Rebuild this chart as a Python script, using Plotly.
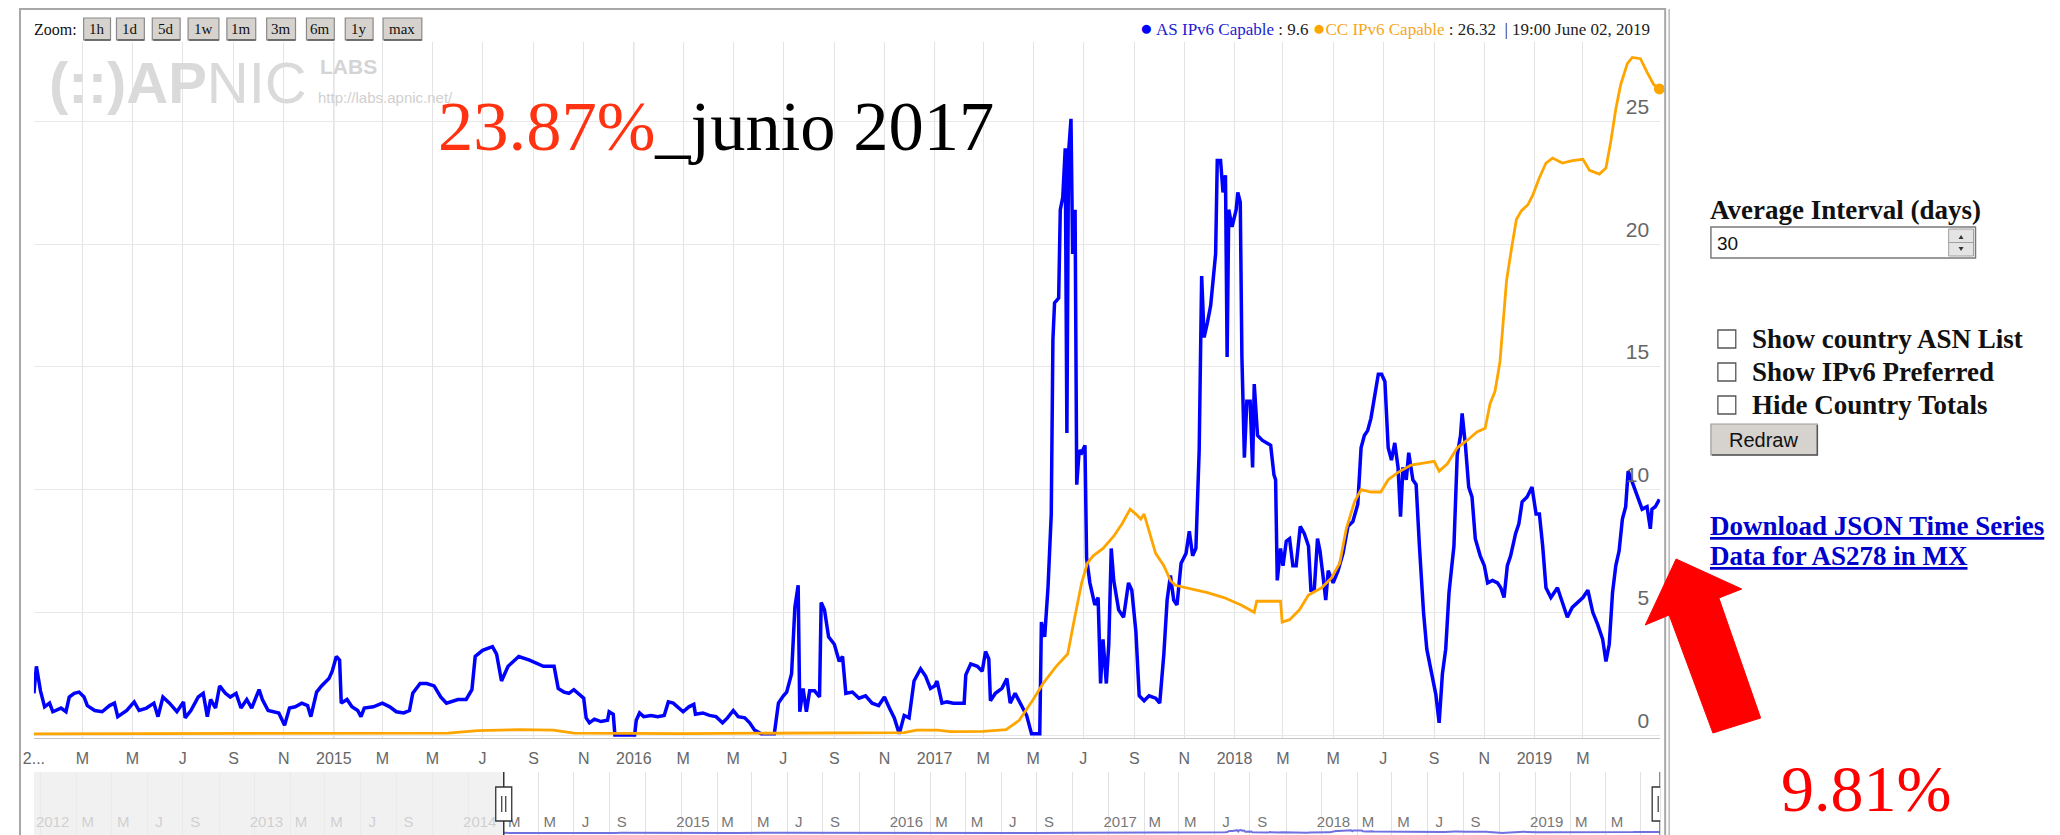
import plotly.graph_objects as go
import pandas as pd

# ---------------- data ----------------
as_dates = [
    "2014-01-01", "2014-01-04", "2014-01-09", "2014-01-14", "2014-01-20", "2014-01-24", "2014-02-03", "2014-02-09",
    "2014-02-13", "2014-02-19", "2014-02-25", "2014-03-03", "2014-03-07", "2014-03-16", "2014-03-25", "2014-04-03",
    "2014-04-09", "2014-04-13", "2014-04-24", "2014-05-03", "2014-05-09", "2014-05-18", "2014-05-27", "2014-06-01",
    "2014-06-07", "2014-06-15", "2014-06-24", "2014-07-02", "2014-07-04", "2014-07-11", "2014-07-20", "2014-07-26",
    "2014-07-31", "2014-08-04", "2014-08-10", "2014-08-15", "2014-08-22", "2014-08-28", "2014-09-04", "2014-09-10",
    "2014-09-17", "2014-09-23", "2014-10-02", "2014-10-06", "2014-10-13", "2014-10-19", "2014-10-26", "2014-11-02",
    "2014-11-08", "2014-11-15", "2014-11-23", "2014-11-30", "2014-12-04", "2014-12-11", "2014-12-17", "2014-12-26",
    "2014-12-30", "2015-01-04", "2015-01-08", "2015-01-10", "2015-01-17", "2015-01-23", "2015-01-30", "2015-02-03",
    "2015-02-07", "2015-02-18", "2015-03-01", "2015-03-10", "2015-03-18", "2015-03-27", "2015-04-03", "2015-04-07",
    "2015-04-16", "2015-04-24", "2015-05-03", "2015-05-11", "2015-05-18", "2015-06-01", "2015-06-11", "2015-06-18",
    "2015-06-22", "2015-07-01", "2015-07-13", "2015-07-18", "2015-07-24", "2015-08-01", "2015-08-14", "2015-08-27",
    "2015-09-13", "2015-09-26", "2015-10-01", "2015-10-08", "2015-10-14", "2015-10-20", "2015-10-28", "2015-11-01",
    "2015-11-04", "2015-11-08", "2015-11-14", "2015-11-22", "2015-11-30", "2015-12-02", "2015-12-07", "2015-12-09",
    "2016-01-02", "2016-01-04", "2016-01-08", "2016-01-13", "2016-01-22", "2016-01-30", "2016-02-07", "2016-02-12",
    "2016-02-18", "2016-02-24", "2016-03-01", "2016-03-08", "2016-03-14", "2016-03-16", "2016-03-25", "2016-04-02",
    "2016-04-10", "2016-04-18", "2016-04-24", "2016-05-01", "2016-05-07", "2016-05-15", "2016-05-21", "2016-05-27",
    "2016-06-04", "2016-06-20", "2016-06-25", "2016-07-01", "2016-07-05", "2016-07-11", "2016-07-15", "2016-07-19",
    "2016-07-21", "2016-07-25", "2016-07-29", "2016-08-02", "2016-08-08", "2016-08-14", "2016-08-16", "2016-08-20",
    "2016-08-25", "2016-09-01", "2016-09-07", "2016-09-11", "2016-09-15", "2016-09-23", "2016-10-01", "2016-10-09",
    "2016-10-17", "2016-10-25", "2016-11-01", "2016-11-07", "2016-11-13", "2016-11-19", "2016-11-25", "2016-12-01",
    "2016-12-07", "2016-12-15", "2016-12-21", "2016-12-27", "2017-01-01", "2017-01-04", "2017-01-10", "2017-01-16",
    "2017-01-24", "2017-02-06", "2017-02-08", "2017-02-14", "2017-02-22", "2017-02-28", "2017-03-04", "2017-03-08",
    "2017-03-10", "2017-03-16", "2017-03-24", "2017-03-30", "2017-04-03", "2017-04-09", "2017-04-15", "2017-04-23",
    "2017-04-29", "2017-05-09", "2017-05-11", "2017-05-15", "2017-05-19", "2017-05-23", "2017-05-25", "2017-05-27",
    "2017-06-01", "2017-06-03", "2017-06-06", "2017-06-09", "2017-06-11", "2017-06-13", "2017-06-16", "2017-06-18",
    "2017-06-21", "2017-06-23", "2017-06-26", "2017-06-29", "2017-07-03", "2017-07-05", "2017-07-09", "2017-07-15",
    "2017-07-19", "2017-07-22", "2017-07-25", "2017-07-29", "2017-08-01", "2017-08-04", "2017-08-07", "2017-08-13",
    "2017-08-19", "2017-08-25", "2017-08-29", "2017-09-03", "2017-09-07", "2017-09-13", "2017-09-19", "2017-09-27",
    "2017-10-02", "2017-10-07", "2017-10-11", "2017-10-15", "2017-10-19", "2017-10-23", "2017-10-28", "2017-11-03",
    "2017-11-07", "2017-11-11", "2017-11-15", "2017-11-19", "2017-11-22", "2017-11-25", "2017-11-29", "2017-12-03",
    "2017-12-09", "2017-12-11", "2017-12-15", "2017-12-18", "2017-12-21", "2017-12-23", "2017-12-25", "2017-12-29",
    "2018-01-03", "2018-01-05", "2018-01-08", "2018-01-10", "2018-01-13", "2018-01-16", "2018-01-20", "2018-01-23",
    "2018-01-25", "2018-01-29", "2018-02-04", "2018-02-14", "2018-02-18", "2018-02-20", "2018-02-22", "2018-02-26",
    "2018-03-01", "2018-03-05", "2018-03-09", "2018-03-13", "2018-03-17", "2018-03-22", "2018-03-27", "2018-04-01",
    "2018-04-04", "2018-04-08", "2018-04-12", "2018-04-15", "2018-04-19", "2018-04-22", "2018-04-25", "2018-05-01",
    "2018-05-07", "2018-05-13", "2018-05-19", "2018-05-25", "2018-05-31", "2018-06-04", "2018-06-08", "2018-06-12",
    "2018-06-16", "2018-06-20", "2018-06-25", "2018-06-29", "2018-07-03", "2018-07-07", "2018-07-11", "2018-07-15",
    "2018-07-19", "2018-07-22", "2018-07-25", "2018-07-29", "2018-08-01", "2018-08-06", "2018-08-10", "2018-08-14",
    "2018-08-19", "2018-08-23", "2018-08-28", "2018-09-03", "2018-09-07", "2018-09-11", "2018-09-15", "2018-09-19",
    "2018-09-25", "2018-09-29", "2018-10-03", "2018-10-05", "2018-10-09", "2018-10-13", "2018-10-17", "2018-10-21",
    "2018-10-27", "2018-11-01", "2018-11-05", "2018-11-11", "2018-11-17", "2018-11-21", "2018-11-25", "2018-11-29",
    "2018-12-03", "2018-12-09", "2018-12-13", "2018-12-17", "2018-12-23", "2018-12-29", "2019-01-03", "2019-01-07",
    "2019-01-11", "2019-01-15", "2019-01-21", "2019-01-29", "2019-02-04", "2019-02-10", "2019-02-16", "2019-02-22",
    "2019-03-01", "2019-03-07", "2019-03-13", "2019-03-19", "2019-03-25", "2019-03-29", "2019-04-02", "2019-04-06",
    "2019-04-10", "2019-04-14", "2019-04-18", "2019-04-22", "2019-04-25", "2019-04-30", "2019-05-06", "2019-05-12",
    "2019-05-18", "2019-05-22", "2019-05-24", "2019-05-28", "2019-06-02",
]
as_vals = [
    1.7, 2.8, 1.8, 1.15, 1.3, 0.95, 1.1, 0.95,
    1.55, 1.7, 1.75, 1.55, 1.2, 1.0, 0.95, 1.2,
    1.3, 0.75, 1.0, 1.35, 1.0, 1.1, 1.3, 0.75,
    1.55, 1.3, 0.95, 1.35, 0.7, 1.0, 1.55, 1.7,
    0.75, 1.45, 1.1, 2.0, 1.7, 1.55, 1.7, 1.1,
    1.45, 1.1, 1.85, 1.45, 1.0, 0.95, 0.9, 0.4,
    1.1, 1.15, 1.3, 1.2, 0.75, 1.75, 2.0, 2.3,
    2.6, 3.2, 3.05, 1.3, 1.45, 1.15, 1.0, 0.75,
    1.1, 1.15, 1.3, 1.15, 0.95, 0.9, 1.0, 1.7,
    2.1, 2.1, 2.0, 1.55, 1.3, 1.45, 1.45, 1.85,
    3.2, 3.45, 3.6, 3.3, 2.2, 2.8, 3.2, 3.05,
    2.8, 2.8, 1.9, 1.75, 1.7, 1.85, 1.6, 1.5,
    0.7, 0.5, 0.65, 0.55, 0.6, 0.95, 0.85, 0.0,
    0.0, 0.6, 0.9, 0.75, 0.8, 0.75, 0.8, 1.35,
    1.3, 1.1, 0.95, 1.15, 1.25, 0.85, 0.9, 0.8,
    0.75, 0.5, 0.7, 1.0, 0.75, 0.7, 0.5, 0.2,
    0.05, 0.05, 1.3, 1.6, 1.75, 2.5, 5.2, 6.1,
    0.95, 1.9, 0.95, 1.8, 1.8, 1.55, 5.4, 5.1,
    4.0, 3.7, 3.0, 3.2, 1.7, 1.75, 1.5, 1.6,
    1.3, 1.2, 1.55, 1.1, 0.7, 0.05, 0.8, 0.7,
    2.2, 2.7, 2.4, 1.9, 2.0, 2.2, 1.3, 1.35,
    1.3, 1.3, 2.45, 2.9, 2.8, 2.6, 3.4, 3.1,
    1.4, 1.7, 1.9, 2.3, 1.3, 1.7, 1.3, 0.8,
    0.05, 0.05, 4.6, 4.0, 6.0, 9.0, 16.1, 17.6,
    17.8, 21.4, 21.9, 23.9, 12.3, 23.7, 25.1, 19.6,
    21.4, 10.2, 11.6, 11.5, 11.8, 7.2, 6.2, 5.3,
    5.6, 2.1, 3.9, 2.1, 3.7, 7.6, 6.3, 5.1,
    4.8, 6.2, 5.9, 4.2, 1.6, 1.4, 1.6, 1.5,
    1.3, 3.3, 5.5, 6.5, 5.5, 5.3, 7.0, 7.4,
    8.3, 7.3, 7.6, 11.6, 18.7, 16.2, 16.8, 17.5,
    19.6, 23.4, 23.4, 22.1, 22.8, 15.4, 21.4, 20.7,
    21.4, 22.1, 21.7, 15.4, 11.3, 13.6, 13.6, 10.9,
    14.3, 12.2, 12.0, 11.8, 10.6, 10.4, 6.3, 7.6,
    6.9, 7.9, 8.0, 6.9, 6.9, 8.5, 8.2, 7.7,
    5.9, 5.9, 8.0, 7.5, 6.4, 5.5, 6.7, 6.2,
    6.7, 7.4, 8.5, 8.7, 9.4, 11.7, 12.2, 12.4,
    12.9, 13.7, 14.7, 14.7, 14.4, 11.7, 11.2, 11.9,
    10.9, 8.9, 10.9, 10.4, 11.5, 10.4, 10.2, 7.7,
    5.0, 3.5, 2.6, 1.65, 0.5, 2.5, 3.5, 5.8,
    7.7, 11.4, 12.2, 13.1, 11.8, 10.1, 9.7, 8.0,
    7.3, 6.9, 6.2, 6.3, 6.2, 6.0, 5.6, 6.9,
    7.3, 8.2, 8.6, 9.5, 9.7, 10.1, 9.0, 9.0,
    7.7, 6.0, 5.6, 6.0, 5.4, 4.8, 5.2, 5.4,
    5.6, 5.9, 5.0, 4.5, 3.9, 3.0, 3.7, 5.8,
    6.9, 7.5, 8.8, 9.3, 10.75, 10.3, 9.7, 9.2,
    9.3, 8.4, 9.2, 9.3, 9.6,
]

cc_dates = [
    "2014-01-01", "2014-07-01", "2015-01-01", "2015-05-20", "2015-06-25", "2015-08-15", "2015-09-25", "2015-10-20",
    "2016-03-01", "2016-09-01", "2016-11-25", "2016-12-10", "2017-01-05", "2017-01-20", "2017-03-01", "2017-03-29",
    "2017-04-14", "2017-05-01", "2017-05-13", "2017-05-29", "2017-06-12", "2017-06-20", "2017-06-29", "2017-07-06",
    "2017-07-13", "2017-07-25", "2017-08-07", "2017-08-17", "2017-08-27", "2017-09-03", "2017-09-09", "2017-09-13",
    "2017-09-19", "2017-09-27", "2017-10-07", "2017-10-15", "2017-10-21", "2017-11-04", "2017-11-29", "2017-12-19",
    "2018-01-09", "2018-01-25", "2018-01-28", "2018-02-10", "2018-02-26", "2018-02-28", "2018-03-09", "2018-03-21",
    "2018-04-01", "2018-04-17", "2018-04-29", "2018-05-09", "2018-05-17", "2018-05-27", "2018-06-04", "2018-06-16",
    "2018-06-28", "2018-07-07", "2018-07-19", "2018-08-04", "2018-08-20", "2018-09-01", "2018-09-07", "2018-09-17",
    "2018-09-29", "2018-10-11", "2018-10-23", "2018-11-02", "2018-11-08", "2018-11-14", "2018-11-20", "2018-11-24",
    "2018-11-28", "2018-12-04", "2018-12-10", "2018-12-16", "2018-12-24", "2018-12-30", "2019-01-07", "2019-01-15",
    "2019-01-23", "2019-02-04", "2019-02-16", "2019-03-01", "2019-03-09", "2019-03-21", "2019-03-29", "2019-04-04",
    "2019-04-10", "2019-04-16", "2019-04-24", "2019-04-30", "2019-05-10", "2019-05-18", "2019-05-26", "2019-06-02",
]
cc_vals = [
    0.05, 0.05, 0.06, 0.08, 0.18, 0.22, 0.2, 0.08,
    0.06, 0.08, 0.1, 0.2, 0.2, 0.14, 0.15, 0.22,
    0.6, 1.45, 2.1, 2.8, 3.3, 4.7, 6.2, 7.0,
    7.3, 7.6, 8.1, 8.6, 9.2, 9.0, 8.8, 9.0,
    8.3, 7.4, 6.9, 6.3, 6.1, 6.0, 5.8, 5.6,
    5.3, 5.0, 5.45, 5.45, 5.45, 4.6, 4.7, 5.1,
    5.7, 6.0, 6.4, 7.0, 8.4, 9.5, 10.0, 9.9,
    9.9, 10.4, 10.7, 11.0, 11.1, 11.15, 10.75, 11.05,
    11.7, 12.0, 12.35, 12.5, 13.5, 14.0, 15.2, 17.0,
    18.5, 19.8, 21.0, 21.35, 21.6, 22.0, 22.7, 23.3,
    23.5, 23.3, 23.4, 23.45, 23.0, 22.85, 23.1, 24.2,
    25.5, 26.5, 27.35, 27.6, 27.55, 27.0, 26.5, 26.32,
]

y_ticks = [0, 5, 10, 15, 20, 25]
main_tick_text = [
    "2...", "M", "M", "J", "S", "N",
    "2015", "M", "M", "J", "S", "N",
    "2016", "M", "M", "J", "S", "N",
    "2017", "M", "M", "J", "S", "N",
    "2018", "M", "M", "J", "S", "N",
    "2019", "M", "",
]
nav_tick_text = [""] + [
    "2012", "M", "M", "J", "S", "",
    "2013", "M", "M", "J", "S", "",
    "2014", "M", "M", "J", "S", "",
    "2015", "M", "M", "J", "S", "",
    "2016", "M", "M", "J", "S", "",
    "2017", "M", "M", "J", "S", "",
    "2018", "M", "M", "J", "S", "",
    "2019", "M", "M",
]
year_lines = ["2015-01-01", "2016-01-01", "2017-01-01", "2018-01-01", "2019-01-01"]
zoom_buttons = ["1h", "1d", "5d", "1w", "1m", "3m", "6m", "1y", "max"]
legend_time = "19:00 June 02, 2019"

main_range = ["2014-01-01", "2019-06-03"]
nav_range = ["2011-10-20", "2019-06-03"]

main_tickvals = [d.strftime("%Y-%m-%d") for d in pd.date_range("2014-01-01", "2019-05-01", freq="2MS")]
nav_tickvals = [d.strftime("%Y-%m-%d") for d in pd.date_range("2011-11-01", "2019-05-01", freq="2MS")]

# ---------------- geometry helpers (page pixels -> paper; page body has an 8px margin) ----------------
W, H = 2060, 835
OFF = 8


def PX(x):
    return (x - OFF) / W


def PY(y):
    return 1 - (y - OFF) / H


SERIF = "Liberation Serif, Times New Roman, serif"
SANS = "Liberation Sans, Arial, sans-serif"
NARROW = "Liberation Sans Narrow, Arial Narrow, Liberation Sans, sans-serif"

fig = go.Figure()

# main series
fig.add_trace(go.Scatter(x=as_dates, y=as_vals, mode="lines", line=dict(color="#0000ff", width=3.5),
                         xaxis="x", yaxis="y", hoverinfo="skip", showlegend=False))
fig.add_trace(go.Scatter(x=cc_dates, y=cc_vals, mode="lines", line=dict(color="#ffa500", width=2.8),
                         xaxis="x", yaxis="y", hoverinfo="skip", showlegend=False))
fig.add_trace(go.Scatter(x=[cc_dates[-1]], y=[cc_vals[-1]], mode="markers",
                         marker=dict(color="#ffa500", size=11), cliponaxis=False,
                         xaxis="x", yaxis="y", hoverinfo="skip", showlegend=False))
# navigator series
fig.add_trace(go.Scatter(x=as_dates, y=as_vals, mode="lines", line=dict(color="#7070e0", width=2),
                         xaxis="x2", yaxis="y2", hoverinfo="skip", showlegend=False))

shapes = []
annotations = []

# year grid lines
for d in year_lines:
    shapes.append(dict(type="line", xref="x", yref="y domain", x0=d, x1=d, y0=0, y1=1,
                       line=dict(color="#cdcdcd", width=1), layer="below"))

# chart container border
shapes.append(dict(type="rect", xref="paper", yref="paper", x0=PX(9), x1=PX(1663), y0=PY(860), y1=PY(9),
                   line=dict(color="#a8a8a8", width=2), fillcolor="rgba(0,0,0,0)", layer="above"))
shapes.append(dict(type="line", xref="paper", yref="paper", x0=PX(1667), x1=PX(1667), y0=PY(860), y1=PY(9),
                   line=dict(color="#b8b8b8", width=1.5), layer="above"))

# navigator mask and handles
shapes.append(dict(type="rect", xref="x2", yref="paper", x0=nav_range[0], x1=main_range[0],
                   y0=0, y1=PY(772), fillcolor="rgba(236,236,236,0.75)", line=dict(width=0),
                   layer="above"))
for hx in main_range:
    shapes.append(dict(type="line", xref="x2", yref="paper", x0=hx, x1=hx, y0=0, y1=PY(772),
                       line=dict(color="#333", width=1.5), layer="above"))
    shapes.append(dict(type="rect", xref="x2", xsizemode="pixel", xanchor=hx, x0=-8, x1=8,
                       yref="paper", y0=PY(821), y1=PY(787), fillcolor="white",
                       line=dict(color="#333", width=1.3), layer="above"))
    for off in (-2, 2):
        shapes.append(dict(type="line", xref="x2", xsizemode="pixel", xanchor=hx, x0=off, x1=off,
                           yref="paper", y0=PY(812), y1=PY(796), line=dict(color="#333", width=1.2),
                           layer="above"))

# zoom buttons
btn_pos = [(73, 100), (106, 134), (142, 170), (178, 209), (217, 246), (257, 286), (297, 325), (336, 364), (374, 413)]
annotations.append(dict(xref="paper", yref="paper", x=PX(21), y=PY(29), xanchor="left", yanchor="middle",
                        text="Zoom:", showarrow=False, font=dict(family=SERIF, size=16, color="#111")))
for label, (bx0, bx1) in zip(zoom_buttons, btn_pos):
    shapes.append(dict(type="rect", xref="paper", yref="paper", x0=PX(bx0), x1=PX(bx1), y0=PY(40), y1=PY(18),
                       fillcolor="#d6d3ce", line=dict(color="#8a8a8a", width=1.2), layer="above"))
    shapes.append(dict(type="line", xref="paper", yref="paper", x0=PX(bx0 + 1), x1=PX(bx1), y0=PY(40), y1=PY(40),
                       line=dict(color="#555", width=1.5), layer="above"))
    annotations.append(dict(xref="paper", yref="paper", x=PX((bx0 + bx1) / 2), y=PY(29), xanchor="center",
                            yanchor="middle", text=label, showarrow=False,
                            font=dict(family=SERIF, size=15, color="#111")))

# legend line
legend_text = (
    '<span style="color:#0000ff;font-size:21px">●</span> <span style="color:#1c1cd0">AS IPv6 Capable</span> : '
    + f"{as_vals[-1]}"
    + ' <span style="color:#ffa500;font-size:21px">●</span><span style="color:#f5a623">CC IPv6 Capable</span> : '
    + f"{cc_vals[-1]}" + "  | " + legend_time
)
annotations.append(dict(xref="paper", yref="paper", x=PX(1650), y=PY(28), xanchor="right", yanchor="middle",
                        text=legend_text, showarrow=False, font=dict(family=SERIF, size=17, color="#222")))

# APNIC watermark
annotations.append(dict(xref="paper", yref="paper", x=PX(36), y=PY(82), xanchor="left", yanchor="middle",
                        text="<b>(::)AP</b>NIC", showarrow=False,
                        font=dict(family=SANS, size=58, color="#dadada")))
annotations.append(dict(xref="paper", yref="paper", x=PX(309), y=PY(66), xanchor="left", yanchor="middle",
                        text="<b>LABS</b>", showarrow=False, font=dict(family=NARROW, size=21, color="#d4d4d4")))
annotations.append(dict(xref="paper", yref="paper", x=PX(307), y=PY(97), xanchor="left", yanchor="middle",
                        text="http://labs.apnic.net/", showarrow=False,
                        font=dict(family=SANS, size=15, color="#d0d0d0")))

# overlay text
annotations.append(dict(xref="paper", yref="paper", x=PX(427), y=PY(126), xanchor="left", yanchor="middle",
                        text='<span style="color:#ff3311">23.87%</span>_junio 2017', showarrow=False,
                        font=dict(family=SERIF, size=70.5, color="#000")))
annotations.append(dict(xref="paper", yref="paper", x=PX(1777), y=PY(788), xanchor="left", yanchor="middle",
                        text="9.81%", showarrow=False, font=dict(family=SERIF, size=66, color="#ff0000")))

# right-hand form
annotations.append(dict(xref="paper", yref="paper", x=PX(1706), y=PY(210), xanchor="left", yanchor="middle",
                        text="<b>Average Interval (days)</b>", showarrow=False,
                        font=dict(family=SERIF, size=27, color="#111")))
shapes.append(dict(type="rect", xref="paper", yref="paper", x0=PX(1709), x1=PX(1975), y0=PY(258), y1=PY(227),
                   fillcolor="white", line=dict(color="#7a7a7a", width=1.5), layer="above"))
shapes.append(dict(type="rect", xref="paper", yref="paper", x0=PX(1948), x1=PX(1973), y0=PY(256), y1=PY(229),
                   fillcolor="#e4e4e4", line=dict(color="#a0a0a0", width=1), layer="above"))
shapes.append(dict(type="line", xref="paper", yref="paper", x0=PX(1948), x1=PX(1973), y0=PY(242.5), y1=PY(242.5),
                   line=dict(color="#a0a0a0", width=1), layer="above"))
shapes.append(dict(type="path", xref="paper", yref="paper", layer="above", fillcolor="#333", line=dict(width=0),
                   path=f"M {PX(1958)},{PY(239)} L {PX(1963)},{PY(239)} L {PX(1960.5)},{PY(235)} Z"))
shapes.append(dict(type="path", xref="paper", yref="paper", layer="above", fillcolor="#333", line=dict(width=0),
                   path=f"M {PX(1958)},{PY(247)} L {PX(1963)},{PY(247)} L {PX(1960.5)},{PY(251)} Z"))
annotations.append(dict(xref="paper", yref="paper", x=PX(1713), y=PY(243), xanchor="left", yanchor="middle",
                        text="30", showarrow=False, font=dict(family=SANS, size=19, color="#111")))

checkbox_labels = ["Show country ASN List", "Show IPv6 Preferred", "Hide Country Totals"]
for lab, cy in zip(checkbox_labels, (339, 372, 405)):
    shapes.append(dict(type="rect", xref="paper", yref="paper", x0=PX(1716), x1=PX(1734), y0=PY(cy + 9),
                       y1=PY(cy - 9), fillcolor="white", line=dict(color="#555", width=1.3), layer="above"))
    annotations.append(dict(xref="paper", yref="paper", x=PX(1748), y=PY(cy), xanchor="left", yanchor="middle",
                            text=f"<b>{lab}</b>", showarrow=False, font=dict(family=SERIF, size=27, color="#111")))

shapes.append(dict(type="rect", xref="paper", yref="paper", x0=PX(1709), x1=PX(1816), y0=PY(455), y1=PY(424),
                   fillcolor="#d6d3ce", line=dict(color="#9a9a9a", width=1.2), layer="above"))
shapes.append(dict(type="path", xref="paper", yref="paper", layer="above", line=dict(color="#555", width=1.5),
                   path=f"M {PX(1710)},{PY(455)} L {PX(1816)},{PY(455)} L {PX(1816)},{PY(425)}"))
annotations.append(dict(xref="paper", yref="paper", x=PX(1762), y=PY(440), xanchor="center", yanchor="middle",
                        text="Redraw", showarrow=False, font=dict(family=SANS, size=20, color="#111")))

annotations.append(dict(xref="paper", yref="paper", x=PX(1706), y=PY(526), xanchor="left", yanchor="middle",
                        text="<b><u>Download JSON Time Series</u></b>", showarrow=False,
                        font=dict(family=SERIF, size=27, color="#0000cc")))
annotations.append(dict(xref="paper", yref="paper", x=PX(1706), y=PY(556), xanchor="left", yanchor="middle",
                        text="<b><u>Data for AS278 in MX</u></b>", showarrow=False,
                        font=dict(family=SERIF, size=27, color="#0000cc")))

# red arrow
arrow_pts = [(1674, 559), (1740, 589), (1717, 598), (1759, 718), (1711, 733), (1667, 615), (1643, 625)]
arrow_path = "M " + " L ".join(f"{PX(x)},{PY(y)}" for x, y in arrow_pts) + " Z"
shapes.append(dict(type="path", xref="paper", yref="paper", path=arrow_path, fillcolor="#ff0000",
                   line=dict(color="#ff0000", width=1), layer="above"))

fig.update_layout(
    width=W, height=H,
    margin=dict(l=0, r=0, t=0, b=0),
    paper_bgcolor="white", plot_bgcolor="white",
    showlegend=False,
    xaxis=dict(domain=[PX(23), PX(1658)], range=main_range, type="date", anchor="y",
               tickmode="array", tickvals=main_tickvals, ticktext=main_tick_text,
               showgrid=True, gridcolor="#e4e4e4", gridwidth=1, ticks="",
               tickfont=dict(family=NARROW, size=16, color="#666"),
               showline=True, linecolor="#c4c4c4", linewidth=1, zeroline=False,
               ticklabelstandoff=6, fixedrange=True),
    yaxis=dict(domain=[PY(738), PY(42)], range=[-0.12, 28.23], side="right", anchor="x",
               tickmode="array", tickvals=y_ticks, ticklabelposition="inside top",
               ticklabelstandoff=8,
               tickfont=dict(family=SANS, size=21, color="#666"),
               showgrid=True, gridcolor="#e8e8e8", zeroline=False, showline=False, ticks="",
               fixedrange=True),
    xaxis2=dict(domain=[PX(23), PX(1658)], range=nav_range, type="date", anchor="y2",
                tickmode="array", tickvals=nav_tickvals, ticktext=nav_tick_text,
                ticklabelposition="inside", ticklabelshift=-24, ticklabelstandoff=10,
                tickfont=dict(family=NARROW, size=15, color="#777"),
                showgrid=True, gridcolor="#e2e2e2", ticks="", showline=False, zeroline=False,
                fixedrange=True),
    yaxis2=dict(domain=[0, PY(772)], range=[-83, 509], visible=False, anchor="x2", fixedrange=True),
    shapes=shapes,
    annotations=annotations,
)

fig.write_html("out.html", config={"displayModeBar": False})
